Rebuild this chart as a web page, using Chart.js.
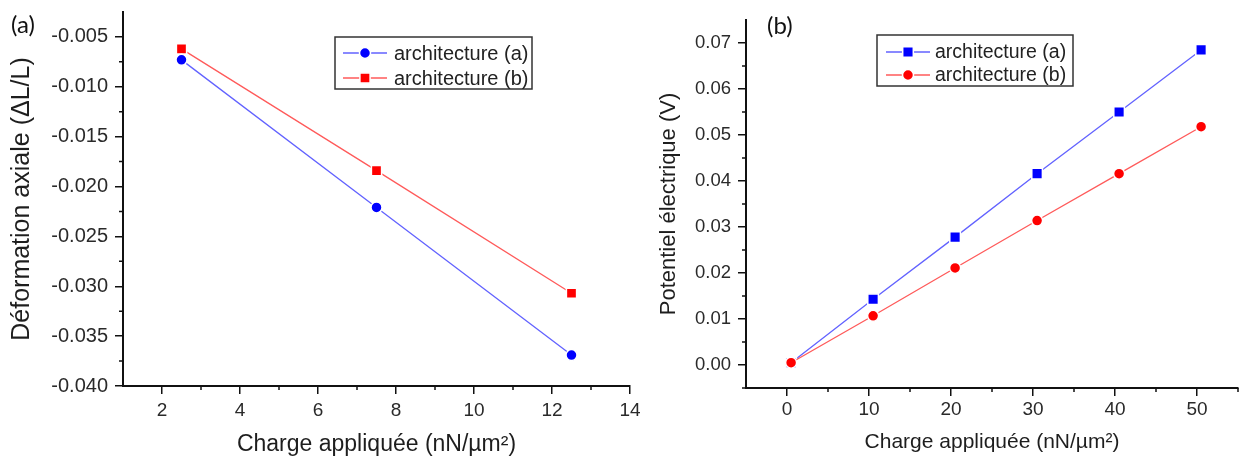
<!DOCTYPE html>
<html>
<head>
<meta charset="utf-8">
<script src="https://cdn.jsdelivr.net/npm/chart.js@4.4.1/dist/chart.umd.min.js"></script>
<style>
body{margin:0;background:#fff;width:1247px;height:459px;position:relative;overflow:hidden}
.panel{position:absolute;top:0;height:459px}
#wrapA{left:0;width:640px}
#wrapB{left:640px;width:607px}
.tag{position:absolute;font-family:Lato,"Open Sans",sans-serif;font-size:24px;color:#111;line-height:1}
</style>
</head>
<body>
<div class="panel" id="wrapA"><canvas id="chartA"></canvas></div>
<div class="panel" id="wrapB"><canvas id="chartB"></canvas></div>
<div class="tag" style="left:11px;top:12px">(a)</div>
<div class="tag" style="left:767px;top:13px">(b)</div>
<script>
// values
const seriesNames = ['architecture (a)', 'architecture (b)'];

// (a) axial deformation vs applied load
const chargeA = [2.5, 7.5, 12.5];
const deformationA = [-0.0073, -0.0221, -0.0369];
const deformationB = [-0.0062, -0.0184, -0.0307];

// (b) electric potential vs applied load
const chargeB = [0.5, 10.5, 20.5, 30.5, 40.5, 50.5];
const potentielA = [0.0005, 0.0143, 0.0278, 0.0416, 0.0550, 0.0685];
const potentielB = [0.0005, 0.0107, 0.0211, 0.0314, 0.0416, 0.0518];

// tick labels
const xTicksA = [2, 4, 6, 8, 10, 12, 14];
const xMinorA = [3, 5, 7, 9, 11, 13];
const yTicksA = [-0.040, -0.035, -0.030, -0.025, -0.020, -0.015, -0.010, -0.005];
const yMinorA = [-0.0375, -0.0325, -0.0275, -0.0225, -0.0175, -0.0125, -0.0075];

const xTicksB = [0, 10, 20, 30, 40, 50];
const xMinorB = [5, 15, 25, 35, 45, 55];
const yTicksB = [0, 0.01, 0.02, 0.03, 0.04, 0.05, 0.06, 0.07];
const yMinorB = [-0.005, 0.005, 0.015, 0.025, 0.035, 0.045, 0.055, 0.065];

Chart.defaults.font.family = '"Liberation Sans", Arial, sans-serif';

const BLUE = '#0000ff', RED = '#ff0000';
const BLUE_LINE = '#6262ff', RED_LINE = '#ff5a5a';

function pts(xs, ys){
    return xs.map((x, i) => ({x: x, y: ys[i]}));
}

// small outward minor ticks, origin style
const minorTicks = {
    id: 'minorTicks',
    afterDraw(chart, args, o){
        const ctx = chart.ctx, a = chart.chartArea;
        ctx.save();
        ctx.strokeStyle = '#111';
        ctx.lineWidth = 1.5;
        ctx.beginPath();
        (o.x || []).forEach(v => {
            const px = chart.scales.x.getPixelForValue(v);
            ctx.moveTo(px, a.bottom);
            ctx.lineTo(px, a.bottom + o.len);
        });
        (o.y || []).forEach(v => {
            const py = chart.scales.y.getPixelForValue(v);
            ctx.moveTo(a.left, py);
            ctx.lineTo(a.left - o.len, py);
        });
        ctx.stroke();
        ctx.restore();
    }
};

// framed legend with line + marker
const boxLegend = {
    id: 'boxLegend',
    afterDraw(chart, args, o){
        const ctx = chart.ctx;
        ctx.save();
        ctx.fillStyle = '#fff';
        ctx.fillRect(o.x, o.y, o.w, o.h);
        ctx.strokeStyle = '#333';
        ctx.lineWidth = 1.5;
        ctx.strokeRect(o.x, o.y, o.w, o.h);
        ctx.font = o.font;
        ctx.textBaseline = 'middle';
        chart.data.datasets.forEach((ds, i) => {
            const cy = o.rows[i];
            ctx.strokeStyle = ds.borderColor;
            ctx.lineWidth = ds.borderWidth;
            ctx.beginPath();
            ctx.moveTo(o.lineFrom, cy);
            ctx.lineTo(o.lineTo, cy);
            ctx.stroke();
            const mx = (o.lineFrom + o.lineTo) / 2;
            ctx.fillStyle = ds.pointBackgroundColor;
            ctx.strokeStyle = '#fff';
            ctx.lineWidth = ds.pointBorderWidth;
            ctx.beginPath();
            if(ds.pointStyle === 'rect'){
                const s = ds.pointRadius * Math.SQRT1_2;
                ctx.rect(mx - s, cy - s, 2 * s, 2 * s);
            } else {
                ctx.arc(mx, cy, ds.pointRadius, 0, Math.PI * 2);
            }
            ctx.fill();
            ctx.stroke();
            ctx.fillStyle = '#222';
            ctx.fillText(ds.label, o.textX, cy + 1);
        });
        ctx.restore();
    }
};

function axis(opts){
    return {
        type: 'linear',
        min: opts.min,
        max: opts.max,
        afterBuildTicks: s => { s.ticks = opts.ticks.map(v => ({value: v})); },
        afterFit: opts.fit,
        border: {color: '#111', width: 2},
        grid: {drawOnChartArea: false, color: '#111', lineWidth: 1.5, tickLength: 8},
        ticks: {
            color: '#2a2a2a', font: {size: opts.tickSize}, padding: opts.tickPad,
            autoSkip: false, maxRotation: 0,
            callback: opts.fmt
        },
        title: {display: true, text: opts.title, color: '#1e1e1e', font: {size: opts.titleSize}, padding: opts.titlePad}
    };
}

new Chart(document.getElementById('chartA'), {
    type: 'line',
    data: {
        datasets: [
            {label: seriesNames[0], data: pts(chargeA, deformationA), borderColor: BLUE_LINE, borderWidth: 1.3,
             pointStyle: 'circle', pointRadius: 5.5, pointBackgroundColor: BLUE, pointBorderColor: '#fff', pointBorderWidth: 1.5},
            {label: seriesNames[1], data: pts(chargeA, deformationB), borderColor: RED_LINE, borderWidth: 1.3,
             pointStyle: 'rect', pointRadius: 7.2, pointBackgroundColor: RED, pointBorderColor: '#fff', pointBorderWidth: 1.5}
        ]
    },
    options: {
        responsive: true, maintainAspectRatio: false, animation: false,
        layout: {padding: {top: 12, right: 10, bottom: 0, left: 0}},
        scales: {
            x: axis({min: 1, max: 14, ticks: xTicksA, tickSize: 19, tickPad: 5, fmt: v => v,
                     title: 'Charge appliquée (nN/µm²)', titleSize: 23, titlePad: {top: 0, bottom: 1},
                     fit: s => { s.height = 73; s.paddingLeft = 0; s.paddingRight = 0; }}),
            y: axis({min: -0.040, max: -0.0025, ticks: yTicksA, tickSize: 20, tickPad: 7, fmt: v => v.toFixed(3),
                     title: 'Déformation axiale (ΔL/L)', titleSize: 25, titlePad: {top: 7, bottom: 0},
                     fit: s => { s.width = 123; s.paddingTop = 0; s.paddingBottom = 0; }})
        },
        plugins: {
            legend: {display: false},
            tooltip: {enabled: false},
            minorTicks: {x: xMinorA, y: yMinorA, len: 4},
            boxLegend: {x: 335, y: 37, w: 197, h: 52, rows: [53, 78], lineFrom: 343, lineTo: 387, textX: 394,
                        font: '20px "Liberation Sans", Arial, sans-serif'}
        }
    },
    plugins: [minorTicks, boxLegend]
});

new Chart(document.getElementById('chartB'), {
    type: 'line',
    data: {
        datasets: [
            {label: seriesNames[0], data: pts(chargeB, potentielA), borderColor: BLUE_LINE, borderWidth: 1.3, order: 1,
             pointStyle: 'rect', pointRadius: 7.5, pointBackgroundColor: BLUE, pointBorderColor: '#fff', pointBorderWidth: 1.5},
            {label: seriesNames[1], data: pts(chargeB, potentielB), borderColor: RED_LINE, borderWidth: 1.3, order: 0,
             pointStyle: 'circle', pointRadius: 5.5, pointBackgroundColor: RED, pointBorderColor: '#fff', pointBorderWidth: 1.5}
        ]
    },
    options: {
        responsive: true, maintainAspectRatio: false, animation: false,
        layout: {padding: {top: 20, right: 2, bottom: 0, left: 0}},
        scales: {
            x: axis({min: -5, max: 55, ticks: xTicksB, tickSize: 19, tickPad: 2, fmt: v => v,
                     title: 'Charge appliquée (nN/µm²)', titleSize: 21, titlePad: {top: 0, bottom: 4},
                     fit: s => { s.height = 71; s.paddingLeft = 0; s.paddingRight = 0; }}),
            y: axis({min: -0.005, max: 0.075, ticks: yTicksB, tickSize: 18.5, tickPad: 7, fmt: v => v.toFixed(2),
                     title: 'Potentiel électrique (V)', titleSize: 22, titlePad: {top: 16, bottom: 0},
                     fit: s => { s.width = 106; s.paddingTop = 0; s.paddingBottom = 0; }})
        },
        plugins: {
            legend: {display: false},
            tooltip: {enabled: false},
            minorTicks: {x: xMinorB, y: yMinorB, len: 4},
            boxLegend: {x: 237, y: 35, w: 196, h: 51, rows: [52, 75], lineFrom: 246, lineTo: 290, textX: 295,
                        font: '19.5px "Liberation Sans", Arial, sans-serif'}
        }
    },
    plugins: [minorTicks, boxLegend]
});
</script>
</body>
</html>
